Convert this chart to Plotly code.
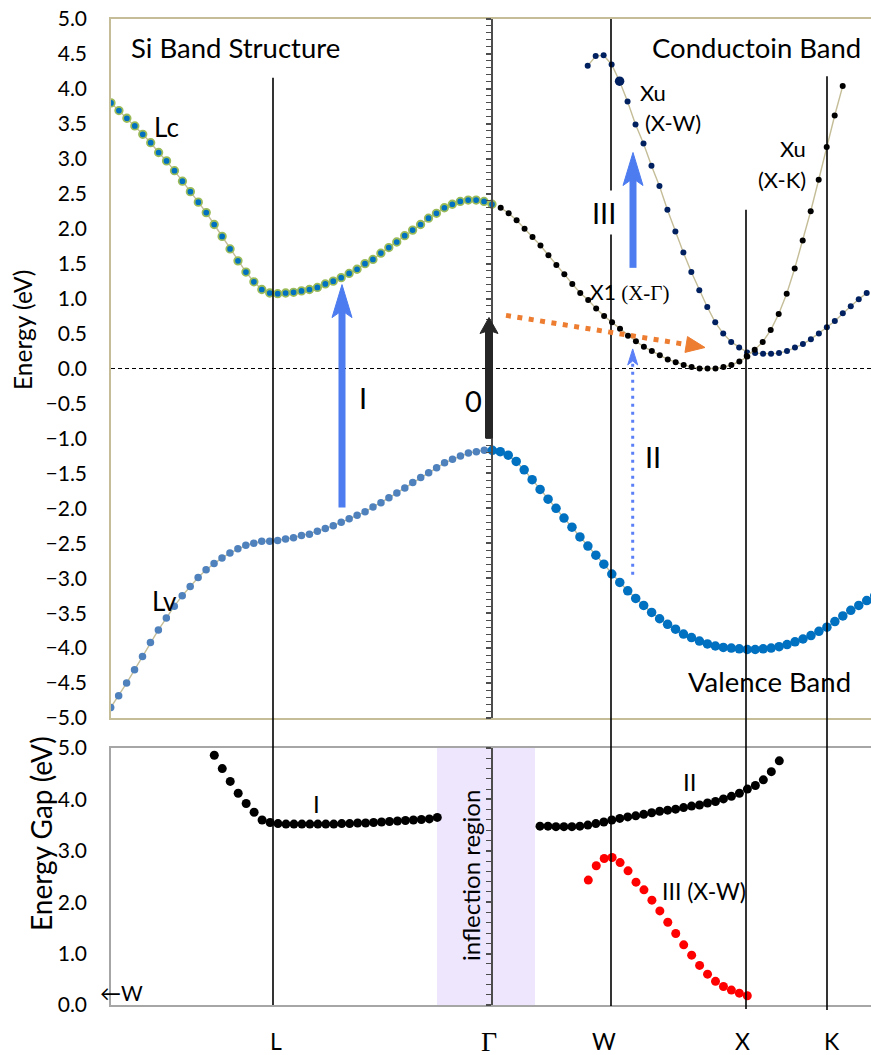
import numpy as np
import plotly.graph_objects as go

# ---------------- data (k-path coordinate: Gamma = 0) ----------------
sym_labels = ["L", "Γ", "W", "X", "K"]
sym_k = [-2.19, 0.0, 1.19, 2.54, 3.35]
K_MIN, K_MAX = -3.81, 3.79

# Lc conduction band (L side)
lc_k = np.linspace(-3.81, 0.0, 49)
lc_e = [3.80, 3.69, 3.58, 3.47, 3.35, 3.23, 3.09, 2.97, 2.83, 2.68,
        2.53, 2.38, 2.23, 2.06, 1.89, 1.71, 1.54, 1.38, 1.24, 1.13,
        1.08, 1.07, 1.08, 1.09, 1.11, 1.13, 1.16, 1.21, 1.25, 1.30,
        1.36, 1.42, 1.50, 1.56, 1.65, 1.73, 1.81, 1.90, 1.98, 2.06,
        2.15, 2.22, 2.30, 2.35, 2.39, 2.41, 2.41, 2.39, 2.35]

# Lv valence band (L side)
lv_k = np.linspace(-3.813, -0.077, 48)
lv_e = [-4.85, -4.68, -4.50, -4.31, -4.12, -3.92, -3.74, -3.57, -3.40, -3.25,
        -3.12, -2.99, -2.88, -2.79, -2.71, -2.64, -2.58, -2.53, -2.50, -2.47,
        -2.47, -2.46, -2.44, -2.42, -2.39, -2.37, -2.33, -2.29, -2.25, -2.20,
        -2.15, -2.10, -2.05, -1.98, -1.92, -1.85, -1.78, -1.71, -1.63, -1.56,
        -1.49, -1.42, -1.35, -1.30, -1.25, -1.21, -1.19, -1.17]

# valence band (Gamma - W - X - K side)
vb_k = np.linspace(0.003, 3.827, 49)
vb_e = [-1.17, -1.19, -1.24, -1.33, -1.45, -1.59, -1.73, -1.87, -2.00, -2.14,
        -2.27, -2.41, -2.54, -2.67, -2.80, -2.94, -3.06, -3.18, -3.29, -3.39,
        -3.49, -3.58, -3.66, -3.73, -3.80, -3.85, -3.90, -3.94, -3.97, -3.99,
        -4.00, -4.01, -4.02, -4.02, -4.01, -4.00, -3.98, -3.95, -3.91, -3.87,
        -3.82, -3.76, -3.70, -3.62, -3.54, -3.46, -3.39, -3.32, -3.25]

# X1 (X-Gamma) conduction band
x1_k = np.linspace(0.087, 2.553, 32)
x1_e = [2.30, 2.22, 2.12, 2.00, 1.88, 1.76, 1.62, 1.48, 1.35, 1.21,
        1.08, 0.98, 0.86, 0.75, 0.66, 0.57, 0.47, 0.39, 0.31, 0.25,
        0.19, 0.13, 0.09, 0.05, 0.02, 0.00, 0.00, 0.00, 0.02, 0.05,
        0.10, 0.17]

# Xu (X-K)
xuk_k = np.linspace(2.547, 3.507, 13)
xuk_e = [0.18, 0.27, 0.38, 0.55, 0.78, 1.07, 1.43, 1.83, 2.25, 2.70, 3.17, 3.62, 4.04]

# Xu (X-W)
xuw_k = np.linspace(0.957, 3.747, 36)
xuw_e = [4.33, 4.47, 4.48, 4.35, 4.11, 3.82, 3.49, 3.22, 2.90, 2.61,
         2.27, 1.96, 1.66, 1.38, 1.12, 0.88, 0.66, 0.50, 0.38, 0.30,
         0.23, 0.22, 0.21, 0.21, 0.22, 0.25, 0.30, 0.35, 0.42, 0.50,
         0.59, 0.68, 0.79, 0.89, 0.99, 1.08]
xuw_big_index = 4

# energy gaps
gap1_k = np.linspace(-2.777, -0.547, 29)
gap1_e = [4.86, 4.60, 4.35, 4.12, 3.92, 3.75, 3.60,
          3.55, 3.53, 3.52, 3.52, 3.52, 3.52, 3.52, 3.52, 3.52, 3.53, 3.53,
          3.54, 3.54, 3.55, 3.56, 3.57, 3.58, 3.59, 3.60, 3.61, 3.62, 3.65]
gap2_k = np.linspace(0.48, 2.873, 31)
gap2_e = [3.48, 3.48, 3.47, 3.47, 3.47, 3.48, 3.50, 3.53, 3.56, 3.60,
          3.63, 3.66, 3.68, 3.71, 3.74, 3.77, 3.79, 3.81, 3.84, 3.87,
          3.89, 3.93, 3.96, 4.01, 4.06, 4.12, 4.20, 4.27, 4.38, 4.54, 4.75]
gap3_k = np.linspace(0.963, 2.553, 21)
gap3_e = [2.43, 2.71, 2.85, 2.87, 2.77, 2.61, 2.39, 2.24, 2.04, 1.83,
          1.61, 1.39, 1.17, 0.97, 0.77, 0.60, 0.46, 0.36, 0.29, 0.23, 0.18]

inflection_k = (-0.55, 0.43)

# ---------------- layout constants ----------------
W, H = 871, 1055
ML, MR, MT, MB = 111, 0, 19, 50
PH = H - MT - MB
TOP_DOM = [(1005 - 718) / PH, 1.0]
BOT_DOM = [0.0, (1005 - 748) / PH]
PX_PER_K = (W - ML - MR) / (K_MAX - K_MIN)
PX_PER_E = (TOP_DOM[1] - TOP_DOM[0]) * PH / 10.0

FONT = "Lato"
TAN = "#c4bd97"

def top_paper(e):
    return TOP_DOM[0] + (e + 5) / 10 * (TOP_DOM[1] - TOP_DOM[0])

fig = go.Figure()

line_tan = dict(color=TAN, width=1.4)

fig.add_trace(go.Scatter(x=lc_k, y=lc_e, mode="lines+markers", line=line_tan,
                         marker=dict(size=7.5, color="#0070c0", line=dict(color="#9bbb59", width=1.8)),
                         xaxis="x", yaxis="y"))
fig.add_trace(go.Scatter(x=lv_k, y=lv_e, mode="lines+markers", line=line_tan,
                         marker=dict(size=7.5, color="#4f81bd"), xaxis="x", yaxis="y"))
fig.add_trace(go.Scatter(x=vb_k, y=vb_e, mode="lines+markers", line=line_tan,
                         marker=dict(size=9.5, color="#0070c0"), xaxis="x", yaxis="y"))
fig.add_trace(go.Scatter(x=x1_k, y=x1_e, mode="lines+markers", line=line_tan,
                         marker=dict(size=6, color="black"), xaxis="x", yaxis="y"))
fig.add_trace(go.Scatter(x=xuw_k, y=xuw_e, mode="lines+markers", line=line_tan,
                         marker=dict(size=6, color="#002060"), xaxis="x", yaxis="y"))
fig.add_trace(go.Scatter(x=[xuw_k[xuw_big_index]], y=[xuw_e[xuw_big_index]], mode="markers",
                         marker=dict(size=9.5, color="#002060"), xaxis="x", yaxis="y"))
fig.add_trace(go.Scatter(x=xuk_k, y=xuk_e, mode="lines+markers", line=line_tan,
                         marker=dict(size=6, color="black"), xaxis="x", yaxis="y"))

fig.add_trace(go.Scatter(x=gap1_k, y=gap1_e, mode="markers",
                         marker=dict(size=9, color="black"), xaxis="x2", yaxis="y2"))
fig.add_trace(go.Scatter(x=gap2_k, y=gap2_e, mode="markers",
                         marker=dict(size=9, color="black"), xaxis="x2", yaxis="y2"))
fig.add_trace(go.Scatter(x=gap3_k, y=gap3_e, mode="markers",
                         marker=dict(size=9, color="#ff0000"), xaxis="x2", yaxis="y2"))
# empty traces to carry the Gamma-crossing axes
fig.add_trace(go.Scatter(x=[None], y=[None], xaxis="x", yaxis="y3"))
fig.add_trace(go.Scatter(x=[None], y=[None], xaxis="x2", yaxis="y4"))

shapes = []
# inflection region
shapes.append(dict(type="rect", xref="x2", yref="y2", x0=inflection_k[0], x1=inflection_k[1],
                   y0=0, y1=5.03, fillcolor="#ede6fc", line=dict(width=0), layer="below"))
# zero line
shapes.append(dict(type="line", xref="x", yref="y", x0=K_MIN, x1=K_MAX, y0=0, y1=0,
                   line=dict(color="black", width=1.2, dash="4px,3px")))
# symmetry-point vertical lines (L, W, X, K)
vlines = [(sym_k[0], top_paper(4.16), 0.0),
          (sym_k[2], 1.0, -0.001),
          (sym_k[3], top_paper(2.27), -0.004),
          (sym_k[4], top_paper(4.18), -0.005)]
for kx, ytop, ybot in vlines:
    shapes.append(dict(type="line", xref="x", yref="paper", x0=kx, x1=kx, y0=ybot, y1=ytop,
                       line=dict(color="black", width=1.6)))

def v_arrow(x, y0, y_tip, head_px, half_px, width, color, dash=None, notch_px=0):
    hl = head_px / PX_PER_E
    hw = half_px / PX_PER_K
    nt = notch_px / PX_PER_E
    base = y_tip - hl
    ln = dict(color=color, width=width)
    if dash:
        ln["dash"] = dash
    shapes.append(dict(type="line", xref="x", yref="y", x0=x, x1=x, y0=y0, y1=base + nt + 0.02, line=ln))
    shapes.append(dict(type="path", xref="x", yref="y",
                       path=f"M{x-hw},{base} L{x},{y_tip} L{x+hw},{base} L{x},{base+nt} Z",
                       fillcolor=color, line=dict(color=color, width=1)))

v_arrow(-1.50, -1.99, 1.20, 33, 10, 7, "#4d7cf0", notch_px=7)       # I
v_arrow(-0.03, -1.00, 0.73, 16, 9, 8, "#262626", notch_px=3)        # 0
v_arrow(1.41, 1.44, 3.09, 33, 10, 7, "#4d7cf0", notch_px=7)         # III
v_arrow(1.407, -2.95, 0.28, 16, 5, 3, "#5b7ff7", dash="3px,5px", notch_px=4)  # II

# orange dotted diagonal arrow
o_start = (0.14, 0.76)
o_tip = (2.13, 0.30)
dxp = (o_tip[0] - o_start[0]) * PX_PER_K
dyp = (o_tip[1] - o_start[1]) * PX_PER_E
L = (dxp ** 2 + dyp ** 2) ** 0.5
ux, uy = dxp / L, dyp / L
hl, hw = 19, 8
bx, by = -hl * ux, -hl * uy
p_base = (o_tip[0] + bx / PX_PER_K, o_tip[1] + by / PX_PER_E)
px_, py_ = -uy, ux
c1 = (p_base[0] + hw * px_ / PX_PER_K, p_base[1] + hw * py_ / PX_PER_E)
c2 = (p_base[0] - hw * px_ / PX_PER_K, p_base[1] - hw * py_ / PX_PER_E)
shapes.append(dict(type="line", xref="x", yref="y", x0=o_start[0], y0=o_start[1],
                   x1=p_base[0] - 4 * ux / PX_PER_K, y1=p_base[1] - 4 * uy / PX_PER_E,
                   line=dict(color="#ed7d31", width=5, dash="5px,6.5px")))
shapes.append(dict(type="path", xref="x", yref="y",
                   path=f"M{c1[0]},{c1[1]} L{o_tip[0]},{o_tip[1]} L{c2[0]},{c2[1]} Z",
                   fillcolor="#ed7d31", line=dict(color="#ed7d31", width=1)))

ann = []
def txt(x, y, s, size, xanchor="center", yanchor="middle", xref="x", yref="y", family=FONT, **kw):
    d = dict(x=x, y=y, text=s, showarrow=False, xref=xref, yref=yref, xanchor=xanchor,
             yanchor=yanchor, font=dict(family=family, size=size, color="black"))
    d.update(kw)
    ann.append(d)

txt(-3.63, 4.59, "Si Band Structure", 27.5, xanchor="left")
txt(3.71, 4.59, "Conductoin Band", 27.5, xanchor="right")
txt(3.61, -4.48, "Valence Band", 27.5, xanchor="right")
txt(-3.40, 3.45, "Lc", 26, xanchor="left")
txt(-3.42, -3.32, "Lv", 26, xanchor="left")
txt(1.46, 3.95, "Xu", 22, xanchor="left")
txt(1.51, 3.52, "(X-W)", 22, xanchor="left")
txt(3.16, 3.15, "Xu", 22, xanchor="right")
txt(3.16, 2.70, "(X-K)", 22, xanchor="right")
txt(0.96, 1.10, "X1 <span style='font-family:Liberation Serif'>(X-Γ)</span>", 21, xanchor="left")
txt(-1.29, -0.41, "I", 29)
txt(-0.19, -0.46, "0", 29)
txt(1.61, -1.26, "II", 29)
txt(1.12, 2.23, "III", 29, bgcolor="white", borderpad=4)

txt(-1.76, 3.93, "I", 24, xref="x2", yref="y2")
txt(1.97, 4.34, "II", 24, xref="x2", yref="y2")
txt(1.68, 2.22, "III (X-W)", 23, xanchor="left", xref="x2", yref="y2")
txt(-0.21, 2.51, "inflection region", 24, xref="x2", yref="y2", textangle=-90)
txt(-3.71, 0.25, "←W", 21, xref="x2", yref="y2")

for lab, kx in zip(sym_labels, [-2.16, -0.03, 1.12, 2.50, 3.40]):
    if lab == "Γ":
        txt(kx, 0, lab, 28, xref="x", yref="paper", family="Liberation Serif", yshift=-36, height=24)
    else:
        txt(kx, 0, lab, 23, xref="x", yref="paper", yshift=-36)

txt(-89 / (W - ML - MR), (1005 - 330) / PH, "Energy (eV)", 24.5, xref="paper", yref="paper", textangle=-90)
txt(-70 / (W - ML - MR), (1005 - 834) / PH, "Energy Gap (eV)", 28, xref="paper", yref="paper", textangle=-90)

gamma_pos = (0 - K_MIN) / (K_MAX - K_MIN)

fig.update_layout(
    width=W, height=H, margin=dict(l=ML, r=MR, t=MT, b=MB),
    paper_bgcolor="white", plot_bgcolor="white", showlegend=False,
    font=dict(family=FONT, color="black"),
    shapes=shapes, annotations=ann,
    xaxis=dict(domain=[0, 1], range=[K_MIN, K_MAX], anchor="y", showgrid=False, zeroline=False,
               showticklabels=False, ticks="", showline=True, mirror=True, linecolor=TAN, linewidth=1.5),
    yaxis=dict(domain=TOP_DOM, range=[-5, 5], dtick=0.5, tickformat=".1f", anchor="x",
               showgrid=False, zeroline=False, ticks="", showline=True, linecolor=TAN, linewidth=1.5,
               tickfont=dict(family=FONT, size=21, color="black"), ticklabelstandoff=18),
    xaxis2=dict(domain=[0, 1], range=[K_MIN, K_MAX], anchor="y2", showgrid=False, zeroline=False,
                showticklabels=False, ticks="", showline=True, mirror=True, linecolor="#a6a6a6", linewidth=1.5),
    yaxis2=dict(domain=BOT_DOM, range=[0, 5], dtick=1, tickformat=".1f", anchor="x2",
                showgrid=False, zeroline=False, ticks="", showline=True, linecolor="#a6a6a6", linewidth=1.5,
                tickfont=dict(family=FONT, size=21, color="black"), ticklabelstandoff=18),
    yaxis3=dict(overlaying="y", anchor="free", position=gamma_pos, range=[-5, 5], showgrid=False,
                zeroline=False, showticklabels=False, showline=True, linecolor="#4d4d4d", linewidth=2,
                ticks="outside", ticklen=5, tickcolor="#4d4d4d", dtick=0.5, tickwidth=1.5,
                minor=dict(ticks="outside", dtick=0.1, ticklen=5, tickcolor="#4d4d4d", tickwidth=1.2)),
    yaxis4=dict(overlaying="y2", anchor="free", position=gamma_pos, range=[0, 5], showgrid=False,
                zeroline=False, showticklabels=False, showline=True, linecolor="#4d4d4d", linewidth=2,
                ticks="outside", ticklen=5, tickcolor="#4d4d4d", dtick=1, tickwidth=1.5,
                minor=dict(ticks="outside", dtick=0.2, ticklen=5, tickcolor="#4d4d4d", tickwidth=1.2)),
)

fig.write_html("out.html")
